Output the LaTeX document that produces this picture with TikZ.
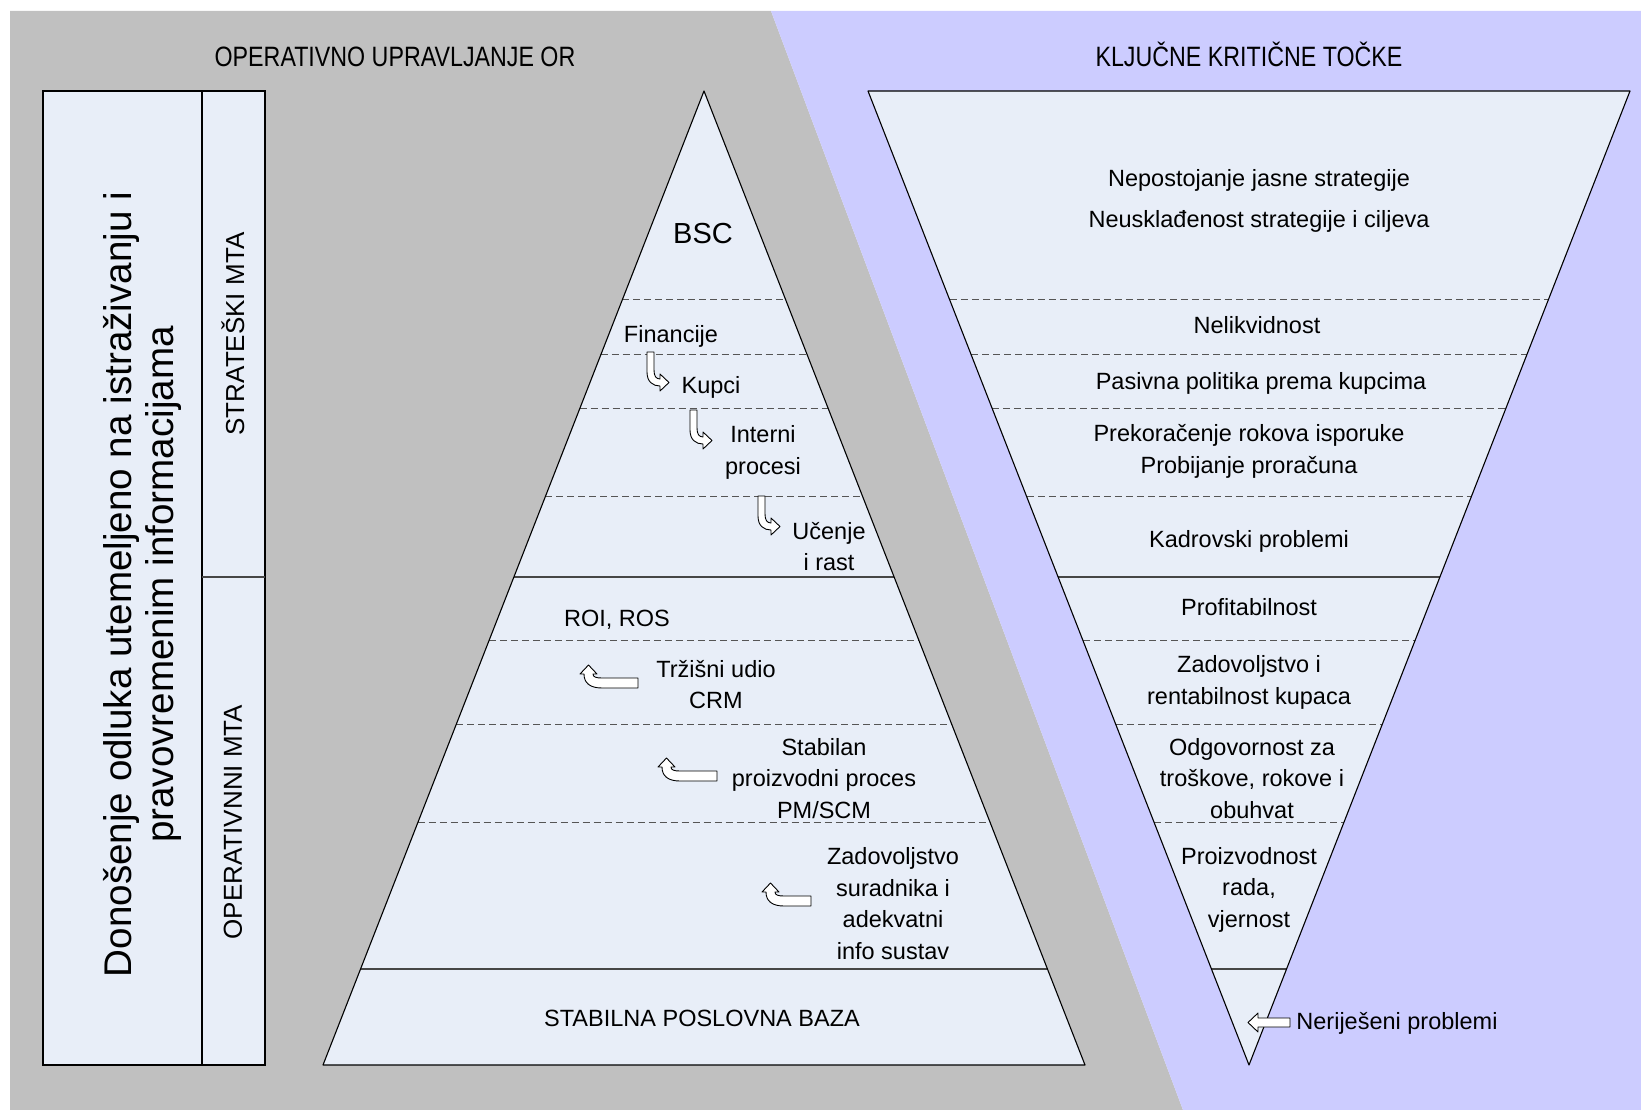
\documentclass[tikz,border=0pt]{standalone}
\usepackage{fontspec}
\setmainfont{Liberation Sans}
\newfontfamily\narrowsf[FakeStretch=0.83]{Liberation Sans}
\usetikzlibrary{calc}

\definecolor{bggray}{RGB}{192,192,192}
\definecolor{bgblue}{RGB}{204,204,255}
\definecolor{paneblue}{RGB}{232,238,248}
\definecolor{levelgray}{RGB}{85,85,85}
\definecolor{splitgray}{RGB}{70,70,70}

\begin{document}
\begin{tikzpicture}[x=1pt, y=-1pt,
      txt/.style={font=\fontsize{23.5}{31.5}\selectfont, align=center, inner sep=0pt, yshift=-2.5pt},
      head/.style={font=\narrowsf\fontsize{28}{32}\selectfont, inner sep=0pt, yshift=-2pt},
      side/.style={font=\fontsize{26}{30}\selectfont, inner sep=0pt, rotate=90},
      pane/.style={fill=paneblue, draw=black, line width=1.1pt},
      level/.style={draw=levelgray, line width=1pt, dash pattern=on 7pt off 4pt},
      split/.style={draw=splitgray, line width=1.6pt},
      arrowshape/.style={fill=white, draw=black, line width=0.9pt, line join=round},
      pics/turnright/.style={code={
        \draw[arrowshape] (0,0) -- (0,20) .. controls (0,30) and (6,34) .. (13,34)
          -- (13,39) -- (22,30.5) -- (13,22) -- (13,27)
          .. controls (9,27) and (7,24) .. (7,18) -- (7,0) -- cycle;}},
      pics/turnup/.style={code={
        \draw[arrowshape] (#1,13) -- (#1,23) -- (22,23) .. controls (10,23) and (4,18) .. (4,9)
          -- (0,9) -- (8.5,0) -- (17,9) -- (13,9)
          .. controls (13,12) and (16,13) .. (22,13) -- cycle;}},
      pics/pointleft/.style={code={
        \draw[arrowshape] (0,0) -- (10,-9.5) -- (10,-4.5) -- (42,-4.5) -- (42,4.5)
          -- (10,4.5) -- (10,9.5) -- cycle;}}]

    \useasboundingbox (0,0) rectangle (1641,1110);
    \fill[bggray] (10,11) -- (771,11) -- (1183,1110) -- (10,1110) -- cycle;
    \fill[bgblue] (771,11) -- (1641,11) -- (1641,1110) -- (1183,1110) -- cycle;

    % left column
    \draw[pane] (43,91) rectangle (265,1065);
    \draw[line width=1.1pt] (202,91) -- (202,1065);
    \draw[split] (202,577) -- (265,577);

    % the two triangles
    \coordinate (pyrtop) at (704,91);
    \coordinate (pyrleft) at (323,1065);
    \coordinate (pyrright) at (1085,1065);
    \coordinate (invleft) at (868,91);
    \coordinate (invright) at (1630,91);
    \coordinate (invtip) at (1249,1065);

    \fill[paneblue] (pyrtop) -- (pyrleft) -- (pyrright) -- cycle;
    \fill[paneblue] (invleft) -- (invright) -- (invtip) -- cycle;

    \foreach \yy/\kind in {300/level,355/level,409/level,497/level,577/split,
                           641/level,725/level,823/level,969/split}{
      \pgfmathsetmacro\lvl{(\yy-91)/974}
      \draw[\kind] ($(pyrtop)!\lvl!(pyrleft)$) -- ($(pyrtop)!\lvl!(pyrright)$);
      \draw[\kind] ($(invleft)!\lvl!(invtip)$) -- ($(invright)!\lvl!(invtip)$);
    }

    \draw[line width=1.1pt, line join=round] (pyrtop) -- (pyrleft) -- (pyrright) -- cycle;
    \draw[line width=1.1pt, line join=round] (invleft) -- (invright) -- (invtip) -- cycle;

    % titles
    \node[head] (ortitle) at (395,55) {OPERATIVNO UPRAVLJANJE OR};
    \node[head] (kttitle) at (1249,52) {KLJUČNE KRITIČNE TOČKE};

    \node[txt, rotate=90, font=\fontsize{38.6}{42}\selectfont] (odluka) at (142,582)
      {Donošenje odluka utemeljeno na istraživanju i\\pravovremenim informacijama};
    \node[side] (strat) at (233,334) {STRATEŠKI MTA};
    \node[side] (oper) at (233,822) {OPERATIVNNI MTA};

    % pyramid
    \node[txt, font=\fontsize{29}{32}\selectfont] (bsc) at (703,231) {BSC};
    \node[txt] (fin) at (671,334) {Financije};
    \node[txt] (kup) at (711,385) {Kupci};
    \node[txt] (intp) at (763,450) {Interni\\procesi};
    \node[txt] (uce) at (829,544) {Učenje\\i rast};
    \node[txt] (roi) at (617,617) {ROI, ROS};
    \node[txt] (trz) at (716,682) {Tržišni udio\\CRM};
    \node[txt] (stab) at (824,776) {Stabilan\\proizvodni proces\\PM/SCM};
    \node[txt] (zad) at (893,901) {Zadovoljstvo\\suradnika i\\adekvatni\\info sustav};
    \node[txt] (baza) at (702,1016) {STABILNA POSLOVNA BAZA};

    \pic at (647,352) {turnright};
    \pic at (690,410) {turnright};
    \pic at (758,496) {turnright};
    \pic at (580,665) {turnup=58};
    \pic at (658,758) {turnup=59};
    \pic at (762,883) {turnup=49};

    % inverted triangle
    \node[txt, font=\fontsize{23.5}{41}\selectfont] (strg) at (1259,198)
      {Nepostojanje jasne strategije\\Neusklađenost strategije i ciljeva};
    \node[txt] (nel) at (1257,323) {Nelikvidnost};
    \node[txt] (pas) at (1261,381) {Pasivna politika prema kupcima};
    \node[txt] (pre) at (1249,449) {Prekoračenje rokova isporuke\\Probijanje proračuna};
    \node[txt] (kad) at (1249,539) {Kadrovski problemi};
    \node[txt] (prof) at (1249,605) {Profitabilnost};
    \node[txt] (zadk) at (1249,680) {Zadovoljstvo i\\rentabilnost kupaca};
    \node[txt] (odg) at (1252,776) {Odgovornost za\\troškove, rokove i\\obuhvat};
    \node[txt] (proiz) at (1249,887) {Proizvodnost\\rada,\\vjernost};
    \node[txt] (nerij) at (1397,1021) {Neriješeni problemi};

    \pic at (1248,1022.5) {pointleft};
  \end{tikzpicture}
\end{document}
